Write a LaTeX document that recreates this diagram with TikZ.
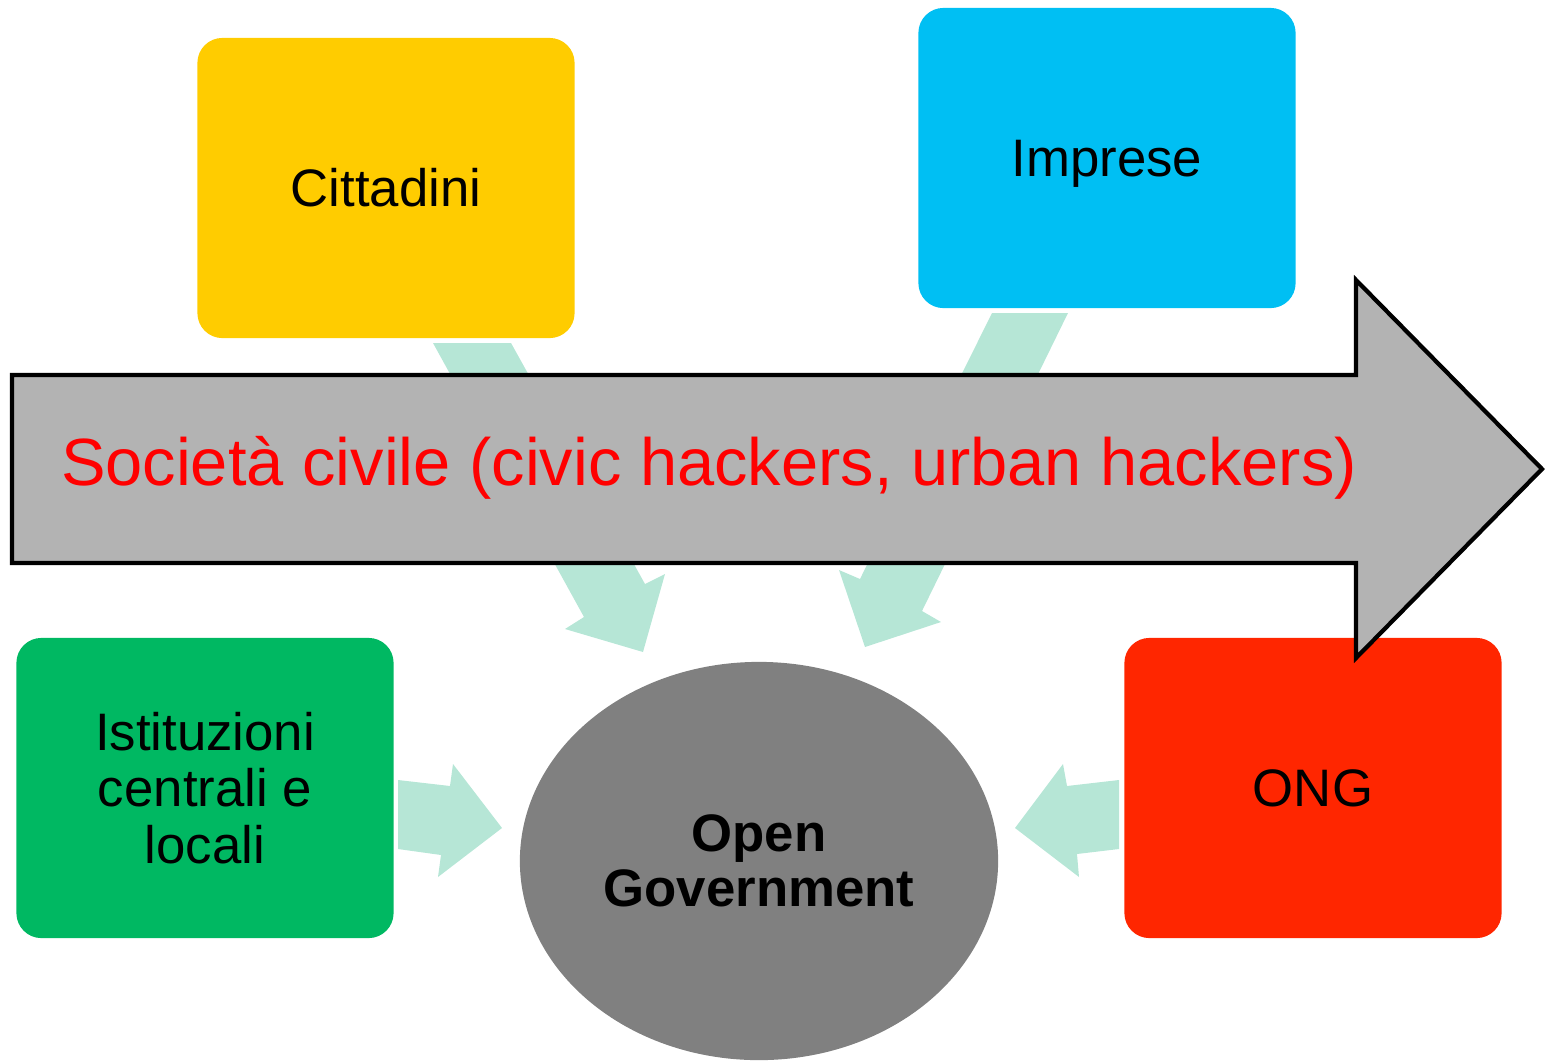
\documentclass[tikz,border=0pt]{standalone}
\usepackage{fontspec}
\setmainfont{Liberation Sans}
\usepackage{tikz}
\usetikzlibrary{shapes.geometric}

\definecolor{giallo}{HTML}{FFCC00}
\definecolor{azzurro}{HTML}{00BFF3}
\definecolor{verde}{HTML}{00B862}
\definecolor{rosso}{HTML}{FF2600}
\definecolor{frecciachiara}{HTML}{B6E6D6}
\definecolor{grigiofreccia}{HTML}{B3B3B3}
\definecolor{grigioovale}{HTML}{808080}

\begin{document}
\begin{tikzpicture}[x=0.01cm,y=-0.01cm]
  \tikzstyle{attore}=[rectangle,rounded corners=0.25cm,minimum width=3.77cm,
  minimum height=3cm,inner sep=0pt,align=center,font=\fontsize{15}{16}\selectfont]
  \tikzstyle{blocco}=[fill=frecciachiara,draw=none]

\useasboundingbox (0,0) rectangle (1545,1060);

    \node [attore,fill=giallo] (citt) at (386,188) {Cittadini};
    \node [attore,fill=azzurro] (impr) at (1107,158) {};
    \node (imprtesto) at (1107,164) {\fontsize{15}{16}\selectfont Imprese};
    \node [attore,fill=verde] (ist) at (205,788) {Istituzioni\\centrali e\\locali};
    \node [attore,fill=rosso] (ong) at (1313,788) {ONG};
    \node [ellipse,fill=grigioovale,minimum width=4.78cm,minimum height=3.98cm,
      align=center,font=\fontsize{15}{15.7}\selectfont\bfseries] (og) at (759,861) {Open\\Government};

% frecce verso l'open government
\fill [blocco] (433,343) -- (511,343) -- (645,584) -- (665,574) -- (643,652) -- (565,629) -- (584,617) -- cycle;
\fill [blocco] (992,313) -- (1068,313) -- (922,611) -- (941,622) -- (865,647) -- (839,570) -- (860,579) -- cycle;
\fill [blocco] (398,780) -- (450,786) -- (453,764) -- (502,828) -- (438,877) -- (441,855) -- (398,849) -- cycle;
\fill [blocco] (1119,780) -- (1067,786) -- (1063,764) -- (1015,828) -- (1079,877) -- (1077,854) -- (1119,849) -- cycle;

% freccia della societa civile
\draw [fill=grigiofreccia,line width=1.2pt,miter limit=4] (12,375) -- (1356,375) -- (1356,280) -- (1542,469)
  -- (1356,658) -- (1356,563) -- (12,563) -- cycle;
    \node [text=red,font=\fontsize{19}{22}\selectfont] (soc) at (709,468) {Società civile (civic hackers, urban hackers)};
\end{tikzpicture}
\end{document}
